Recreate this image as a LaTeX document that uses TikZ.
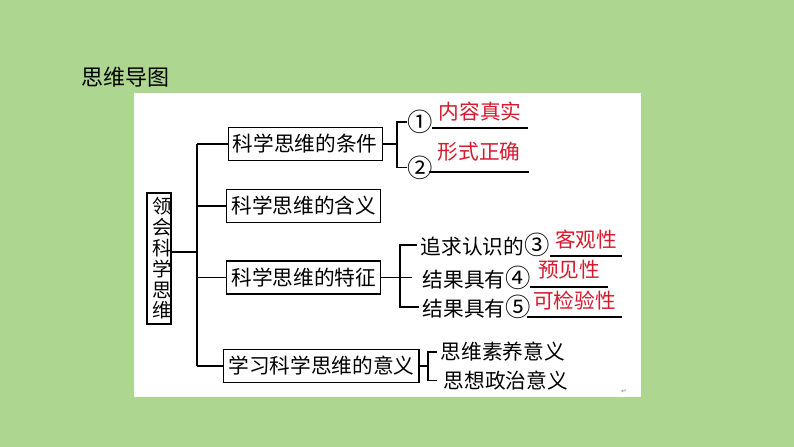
\documentclass[tikz,border=0pt]{standalone}
\usepackage{fontspec}
\newfontfamily\cjk{Noto Sans CJK SC}
\newfontfamily\symfont{DejaVu Sans}
\usetikzlibrary{positioning,calc}
\definecolor{bggreen}{RGB}{173,214,145}
\definecolor{ansred}{RGB}{215,25,45}
\newcommand\circnum[1]{{\fontsize{19}{15}\selectfont#1}}

\begin{document}
\begin{tikzpicture}[x=0.75pt,y=-0.75pt,line width=1.1pt,
  every node/.style={font=\cjk\fontsize{15.5}{15}\selectfont},
  box/.style={draw,line width=1.1pt,inner xsep=3.5pt,inner ysep=0pt,minimum height=24.5pt,anchor=west},
  item/.style={anchor=west,inner sep=0pt},
  blank/.style={inner sep=0pt,minimum height=0pt},
  ans/.style={text=ansred,inner sep=0pt}]
 \fill[bggreen] (0,0) rectangle (794,447);
 \useasboundingbox (0,0) rectangle (794,447);
 \fill[white] (134,93) rectangle (641,397);
 \node[item,font=\cjk\fontsize{16.5}{16.5}\selectfont] (title) at (81,77) {思维导图};
 % main boxes
 \node[draw,line width=1.1pt,text width=1em,align=center,inner xsep=4pt,minimum height=95pt,
   font=\cjk\fontsize{14.5}{15.6}\selectfont] (root) at (159,258.5) {领\\会\\科\\学\\思\\维};
 \node[box] (cond) at (227.5,144) {科学思维的条件};
 \node[box] (def) at (226,206) {科学思维的含义};
 \node[box] (feat) at (226,277.5) {科学思维的特征};
 \node[box] (sig) at (223,366) {学习科学思维的意义};
 \coordinate (tk) at (197,252);
 \draw (root.east |- tk) -- (tk);
 \draw (tk |- cond.west) -- (tk |- sig.west);
 \foreach \b in {cond,def,feat,sig}
  \draw (tk |- \b.west) -- (\b.west);
 % conditions
 \node[item] (c1) at (407,122) {\circnum{①}};
 \node[item] (c2) at (407,167.5) {\circnum{②}};
 \coordinate (bc) at (397,144);
 \draw (cond.east) -- (bc);
 \draw (c1.west) -| (bc) |- (c2.west);
 \node[blank,minimum width=70.5pt] (u1) at (480,128) {};
 \node[blank,minimum width=73.5pt] (u2) at (479,172) {};
 \draw (u1.west) -- (u1.east);
 \draw (u2.west) -- (u2.east);
 \node[ans,above=4pt of u1] (a1) {内容真实};
 \node[ans,above=7pt of u2] (a2) {形式正确};
 % features
 \node[item] (f1) at (420,245) {追求认识的\circnum{③}};
 \node[item] (f2) at (422,277.5) {结果具有\circnum{④}};
 \node[item] (f3) at (422,307) {结果具有\circnum{⑤}};
 \coordinate (bf) at (400,277.5);
 \draw (feat.east) -- ($(f2.west)+(-10,0)$);
 \draw ($(f1.west)+(-3,0)$) -| (bf) |- ($(f3.west)+(-3,0)$);
 \node[blank,minimum width=52.5pt] (u3) at (586,256) {};
 \node[blank,minimum width=57pt] (u4) at (569,287) {};
 \node[blank,minimum width=70pt] (u5) at (574.5,317) {};
 \foreach \u in {u3,u4,u5}
  \draw (\u.west) -- (\u.east);
 \node[ans,above=4pt of u3] (a3) {客观性};
 \node[ans,above=5pt of u4] (a4) {预见性};
 \node[ans,above=4pt of u5] (a5) {可检验性};
 % significance
 \node[item] (s1) at (440,352) {思维素养意义};
 \node[item] (s2) at (443,380.5) {思想政治意义};
 \coordinate (bs) at (428,366);
 \draw (sig.east) -- (bs);
 \draw ($(s1.west)+(-3,0)$) -| (bs) |- ($(s2.west)+(-6,0)$);
 \node[font=\symfont\fontsize{5}{5}\selectfont,text=gray] (mark) at (624,391) {↵};
\end{tikzpicture}
\end{document}
